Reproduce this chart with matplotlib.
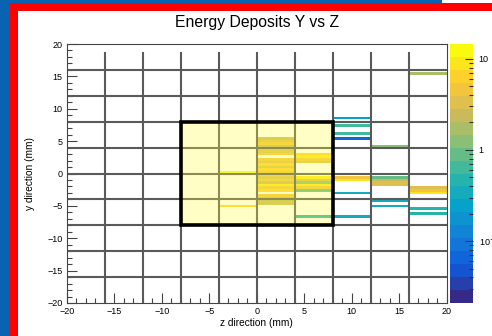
import numpy as np
import matplotlib
matplotlib.use("Agg")
import matplotlib.pyplot as plt
from matplotlib.colors import LinearSegmentedColormap, LogNorm
from matplotlib.patches import Rectangle
from matplotlib.ticker import MultipleLocator, LogLocator, NullFormatter, FixedLocator, FixedFormatter

plt.rcParams['font.family'] = ['Liberation Sans', 'DejaVu Sans']

# ── Data: energy deposits (z centre, y centre, energy) ────────────────────────
dep_z = [-2, -2,
         2, 2, 2, 2, 2, 2, 2, 2, 2, 2, 2, 2, 2, 2, 2, 2, 2, 2, 2, 2, 2, 2, 2, 2,
         6, 6, 6, 6, 6, 6, 6, 6, 6, 6, 6,
         10, 10, 10, 10, 10, 10, 10, 10,
         14, 14, 14, 14, 14, 14, 14,
         18, 18, 18, 18, 18, 18]
dep_y = [0.4, -5.0,
         5.4, 5.0, 4.6, 4.2, 3.8, 3.4, 3.0, 2.2, 1.8, 1.4, 1.0, 0.6, 0.2,
         -0.2, -0.6, -1.0, -1.4, -1.8, -2.2, -2.6, -3.4, -3.8, -4.2, -4.6,
         3.0, 2.6, 2.2, 1.8, -0.6, -1.0, -1.4, -1.8, -2.2, -2.6, -6.6,
         8.6, 7.4, 6.2, 5.4, -0.6, -1.0, -3.0, -6.6,
         4.2, -0.6, -1.0, -1.4, -1.8, -4.2, -5.0,
         15.4, -2.2, -2.6, -3.0, -5.4, -6.2]
dep_e = [12, 6,
         2.5, 3, 4, 2.5, 3, 3.5, 4, 5, 3, 6, 3, 7, 4,
         6, 3, 5, 2.5, 8, 4, 6, 5, 3, 2.5, 2.5,
         6, 10, 4, 3, 10, 3, 1.2, 8, 4, 1.0, 0.4,
         0.22, 0.6, 0.7, 0.06, 5, 10, 0.3, 0.35,
         1.3, 1.0, 2.5, 3, 3.5, 0.35, 0.35,
         1.5, 3, 4, 9, 0.4, 0.5]

z_edges = np.linspace(-20, 20, 11)
y_edges = np.linspace(-20, 20, 101)
grid_pos = [-16, -12, -8, -4, 0, 4, 8, 12, 16]
cb_ticks = [0.1, 1, 10]
cb_labels = ["10$^{-1}$", "1", "10"]

# ROOT kBird palette
stops = [0.0, 0.125, 0.25, 0.375, 0.5, 0.625, 0.75, 0.875, 1.0]
red = [0.2082, 0.0592, 0.0780, 0.0232, 0.1802, 0.5301, 0.8186, 0.9956, 0.9764]
green = [0.1664, 0.3599, 0.5041, 0.6419, 0.7178, 0.7492, 0.7328, 0.7862, 0.9832]
blue = [0.5293, 0.8684, 0.8385, 0.7914, 0.6425, 0.4662, 0.3499, 0.1968, 0.0539]
bird = LinearSegmentedColormap.from_list(
    "bird", list(zip(stops, zip(red, green, blue)))).resampled(20)

W, H = 492, 336
fig = plt.figure(figsize=(W / 100, H / 100), dpi=100)

def fx(px):
    return px / W

def fy(py):
    return 1 - py / H

# frame decoration (blue backdrop + red border)
blue_c = '#0a63b0'
fig.add_artist(Rectangle((0, 0), fx(10), 1, transform=fig.transFigure, color=blue_c, lw=0))
fig.add_artist(Rectangle((0, fy(3.3)), fx(442), 1 - fy(3.3), transform=fig.transFigure, color=blue_c, lw=0))
fig.add_artist(Rectangle((fx(10), 0), fx(8), fy(3.3), transform=fig.transFigure, color='#ff0000', lw=0))
fig.add_artist(Rectangle((fx(10), fy(11)), 1 - fx(10), fy(3.3) - fy(11), transform=fig.transFigure, color='#ff0000', lw=0))

ax = fig.add_axes([fx(66.7), fy(303), fx(446.7) - fx(66.7), fy(44) - fy(303)])
cax = fig.add_axes([fx(450), fy(303), fx(473) - fx(450), fy(44) - fy(303)])

norm = LogNorm(vmin=0.021, vmax=14.5)
h = ax.hist2d(dep_z, dep_y, bins=[z_edges, y_edges], weights=dep_e,
              cmap=bird, norm=norm, cmin=1e-9, zorder=1)

# detector grid
for g in grid_pos:
    ax.plot([g, g], [-20, 18.6], color='#5a5a5a', lw=1.5, zorder=2)
    ax.plot([-20, 20], [g, g], color='#5a5a5a', lw=1.5, zorder=2)

# highlighted region
ax.add_patch(Rectangle((-8, -8), 16, 16, facecolor=(1, 1, 0.25), alpha=0.3, lw=0, zorder=3))
ax.add_patch(Rectangle((-8, -8), 16, 16, facecolor='none', edgecolor='black', lw=2.6, zorder=4))

ax.set_xlim(-20, 20)
ax.set_ylim(-20, 20)
ax.xaxis.set_major_locator(MultipleLocator(5))
ax.xaxis.set_minor_locator(MultipleLocator(1))
ax.yaxis.set_major_locator(MultipleLocator(5))
ax.yaxis.set_minor_locator(MultipleLocator(1))
ax.tick_params(which='both', direction='in', labelsize=6.5, color='#444444', width=0.8)
ax.tick_params(which='major', length=7, pad=3)
ax.tick_params(which='minor', length=3.6)
for s in ax.spines.values():
    s.set_color('#444444')
    s.set_linewidth(0.8)

ax.set_title("Energy Deposits Y vs Z", fontsize=11.3, pad=12)
ax.set_xlabel("z direction (mm)", fontsize=7.3, labelpad=1)
ax.set_ylabel("y direction (mm)", fontsize=7.3, labelpad=9)

cb = fig.colorbar(h[3], cax=cax)
cb.outline.set_visible(False)
cax.yaxis.set_major_locator(FixedLocator(cb_ticks))
cax.yaxis.set_major_formatter(FixedFormatter(cb_labels))
cax.yaxis.set_minor_locator(LogLocator(base=10, subs=np.arange(2, 10)))
cax.yaxis.set_minor_formatter(NullFormatter())
cax.tick_params(which='both', direction='in', labelsize=6.5, color='#333333', width=0.8, pad=4)
cax.tick_params(which='major', length=6)
cax.tick_params(which='minor', length=3)

fig.savefig("out.png", dpi=100)
